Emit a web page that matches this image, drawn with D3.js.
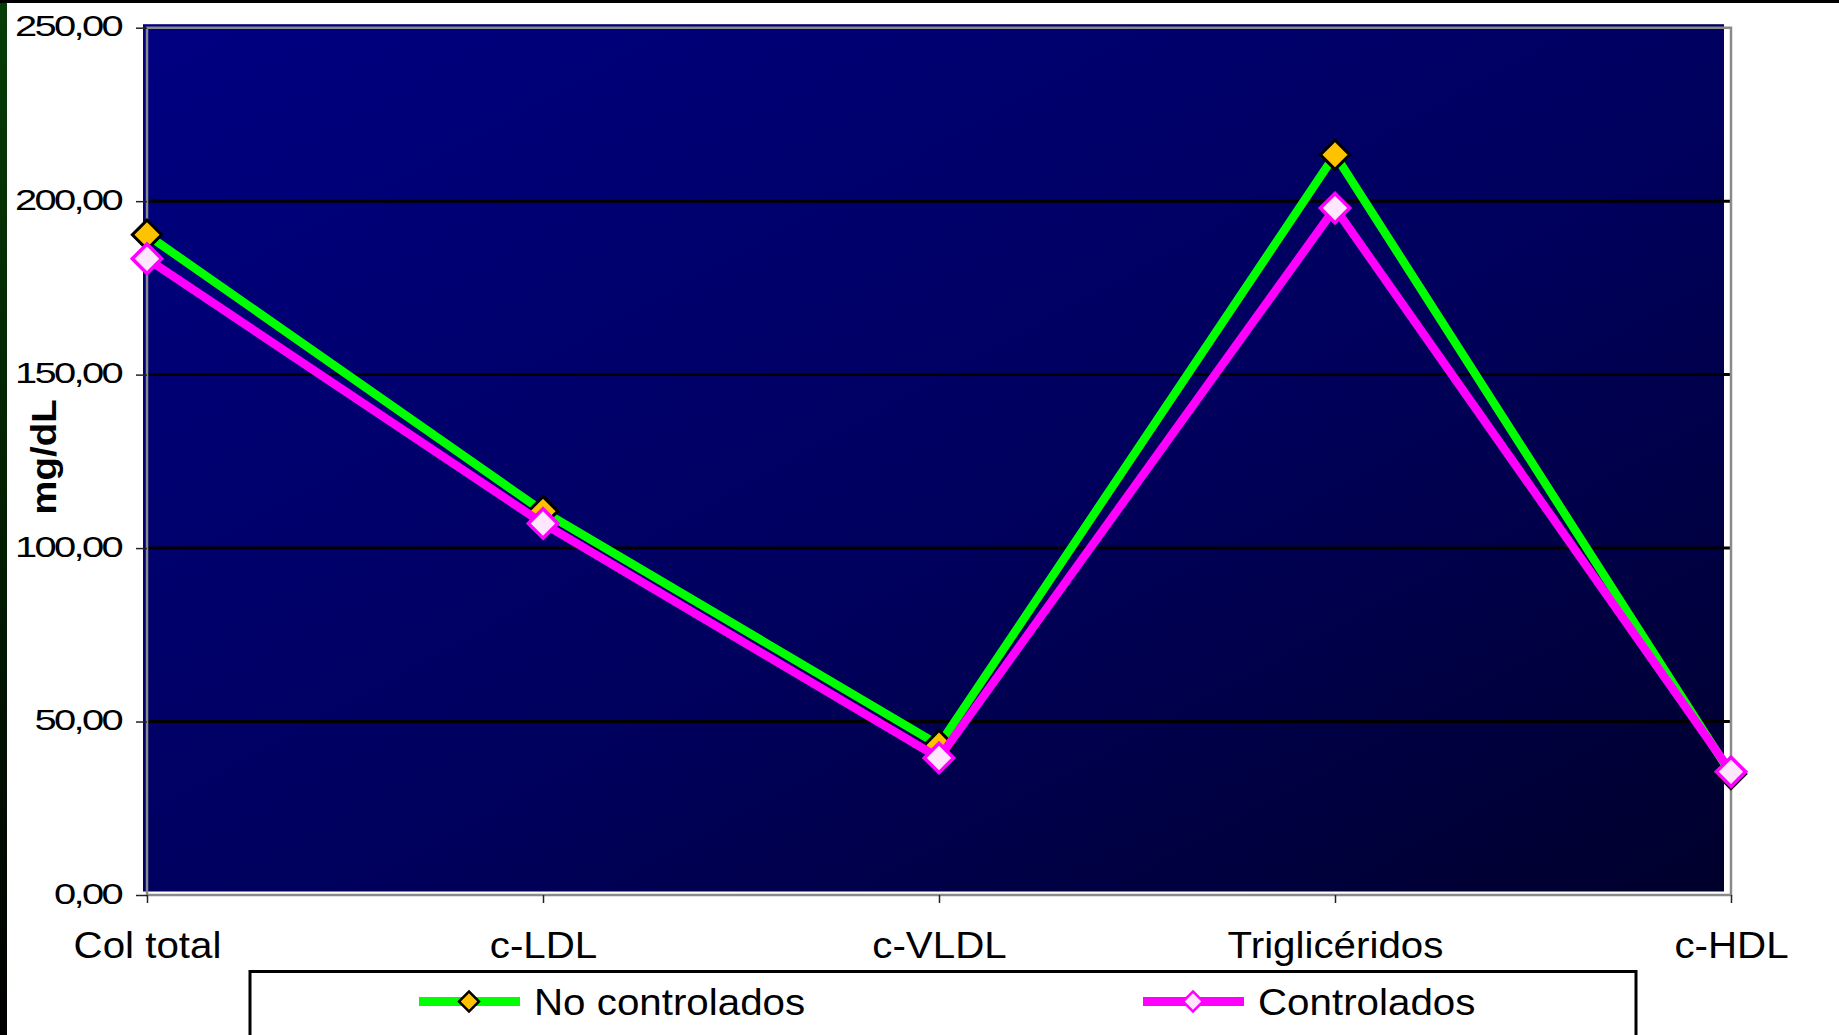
<!DOCTYPE html>
<html>
<head>
<meta charset="utf-8">
<script src="https://cdn.jsdelivr.net/npm/d3@7"></script>
<style>
  html, body { margin: 0; padding: 0; background: #ffffff; }
  svg { display: block; font-family: "Liberation Sans", Arial, sans-serif; }
</style>
</head>
<body>
<svg id="chart" width="1839" height="1035"></svg>
<script>
// Lipid profile (mg/dL) for the two patient groups
const categories = ["Col total", "c-LDL", "c-VLDL", "Triglicéridos", "c-HDL"];
const noControlados = [190.3, 110.6, 43.2, 213.4, 34.9];
const controlados = [183.4, 107.1, 39.5, 198.0, 35.5];
const yTicks = [0, 50, 100, 150, 200, 250];
const gridValues = [50, 100, 150, 200];
const seriesNames = ["No controlados", "Controlados"];

const W = 1839, H = 1035;
const svg = d3.select("#chart");

const x = d3.scalePoint().domain(categories).range([147, 1731]);
const y = d3.scaleLinear().domain([0, 250]).range([895, 27.7]);
const fmt = v => d3.format(".2f")(v).replace(".", ",");

// page frame strips
const defs = svg.append("defs");
const side = defs.append("linearGradient").attr("id", "sideGrad")
  .attr("x1", 0).attr("y1", 0).attr("x2", 0).attr("y2", 1);
side.append("stop").attr("offset", "0%").attr("stop-color", "#063d06");
side.append("stop").attr("offset", "100%").attr("stop-color", "#000000");
svg.append("rect").attr("x", 0).attr("y", 0).attr("width", 7).attr("height", H).attr("fill", "url(#sideGrad)");
svg.append("rect").attr("x", 0).attr("y", 0).attr("width", W).attr("height", 3).attr("fill", "#000");

// plot background
const bg = defs.append("linearGradient").attr("id", "plotGrad")
  .attr("x1", 0).attr("y1", 0).attr("x2", 1).attr("y2", 1);
bg.append("stop").attr("offset", "0%").attr("stop-color", "#000082");
bg.append("stop").attr("offset", "55%").attr("stop-color", "#00005e");
bg.append("stop").attr("offset", "100%").attr("stop-color", "#00002c");
const [x0, x1] = x.range();
svg.append("rect")
  .attr("x", x0 - 4).attr("y", y(250) - 3.5)
  .attr("width", x1 - x0 - 3).attr("height", y(0) - y(250))
  .attr("fill", "url(#plotGrad)");

// gridlines
svg.append("g").selectAll("line").data(gridValues).join("line")
  .attr("x1", x0).attr("x2", x1)
  .attr("y1", d => y(d)).attr("y2", d => y(d))
  .attr("stroke", "#000").attr("stroke-width", 3);

// plot frame
const frame = svg.append("g").attr("stroke", "#8a8a8a").attr("stroke-width", 2.5).attr("fill", "none");
frame.append("path").attr("d", `M${x0},${y(0)}V${y(250)}H${x1}V${y(0)}Z`);

// y axis
const yAxis = svg.append("g").attr("transform", `translate(${x0},0)`)
  .call(d3.axisLeft(y).tickValues(yTicks).tickFormat(fmt).tickSize(11).tickPadding(0));
yAxis.select(".domain").remove();
yAxis.selectAll(".tick line").attr("stroke", "#222").attr("stroke-width", 1.5);
yAxis.selectAll(".tick text")
  .attr("x", 0).attr("dy", 0).attr("y", 0)
  .attr("transform", "translate(-26,8) scale(1.33,1)")
  .attr("text-anchor", "end")
  .attr("letter-spacing", -2)
  .attr("font-size", 30).attr("fill", "#000");

// x axis
const xAxis = svg.append("g").attr("transform", `translate(0,${y(0)})`)
  .call(d3.axisBottom(x).tickSize(8).tickPadding(0));
xAxis.select(".domain").remove();
xAxis.selectAll(".tick line").attr("stroke", "#222").attr("stroke-width", 1.5);
xAxis.selectAll(".tick text")
  .attr("y", 0).attr("dy", 0)
  .attr("transform", "translate(0,63) scale(1.09,1)")
  .attr("text-anchor", "middle")
  .attr("font-size", 37).attr("fill", "#000");

// y axis title
svg.append("text")
  .attr("transform", "translate(56,457) rotate(-90) scale(1.1,1)")
  .attr("text-anchor", "middle")
  .attr("font-size", 35).attr("font-weight", "bold").attr("fill", "#000")
  .text("mg/dL");

// series
const series = [
  { name: seriesNames[0], values: noControlados, line: "#00ff00", fill: "#ffc200", stroke: "#000", sw: 3 },
  { name: seriesNames[1], values: controlados, line: "#ff00ff", fill: "#ffe6ff", stroke: "#ff00ff", sw: 3.5 }
];
const lineGen = d3.line().x(d => x(d.c)).y(d => y(d.v));
const diamond = size => d3.symbol().type(d3.symbolSquare).size(size);

series.forEach(s => {
  const pts = categories.map((c, i) => ({ c, v: s.values[i] }));
  svg.append("path").datum(pts)
    .attr("d", lineGen)
    .attr("fill", "none").attr("stroke", s.line).attr("stroke-width", 8.5)
    .attr("stroke-linejoin", "miter");
  svg.append("g").selectAll("path").data(pts).join("path")
    .attr("d", diamond(430))
    .attr("transform", d => `translate(${x(d.c)},${y(d.v)}) rotate(45)`)
    .attr("fill", s.fill).attr("stroke", s.stroke).attr("stroke-width", s.sw);
});

// legend
const legend = svg.append("g");
legend.append("rect").attr("x", 250).attr("y", 971.5).attr("width", 1386).attr("height", 90)
  .attr("fill", "#fff").attr("stroke", "#000").attr("stroke-width", 3);
const legendPos = [
  { lx: 419, tx: 534 },
  { lx: 1143, tx: 1258 }
];
series.forEach((s, i) => {
  const p = legendPos[i];
  const g = legend.append("g");
  g.append("line").attr("x1", p.lx).attr("x2", p.lx + 101).attr("y1", 1001.5).attr("y2", 1001.5)
    .attr("stroke", s.line).attr("stroke-width", 9);
  g.append("path").attr("d", diamond(200))
    .attr("transform", `translate(${p.lx + 50},1001.5) rotate(45)`)
    .attr("fill", s.fill).attr("stroke", s.stroke).attr("stroke-width", 2.5);
  g.append("text")
    .attr("transform", `translate(${p.tx},1015) scale(1.09,1)`)
    .attr("font-size", 37).attr("fill", "#000")
    .text(s.name);
});
</script>
</body>
</html>
